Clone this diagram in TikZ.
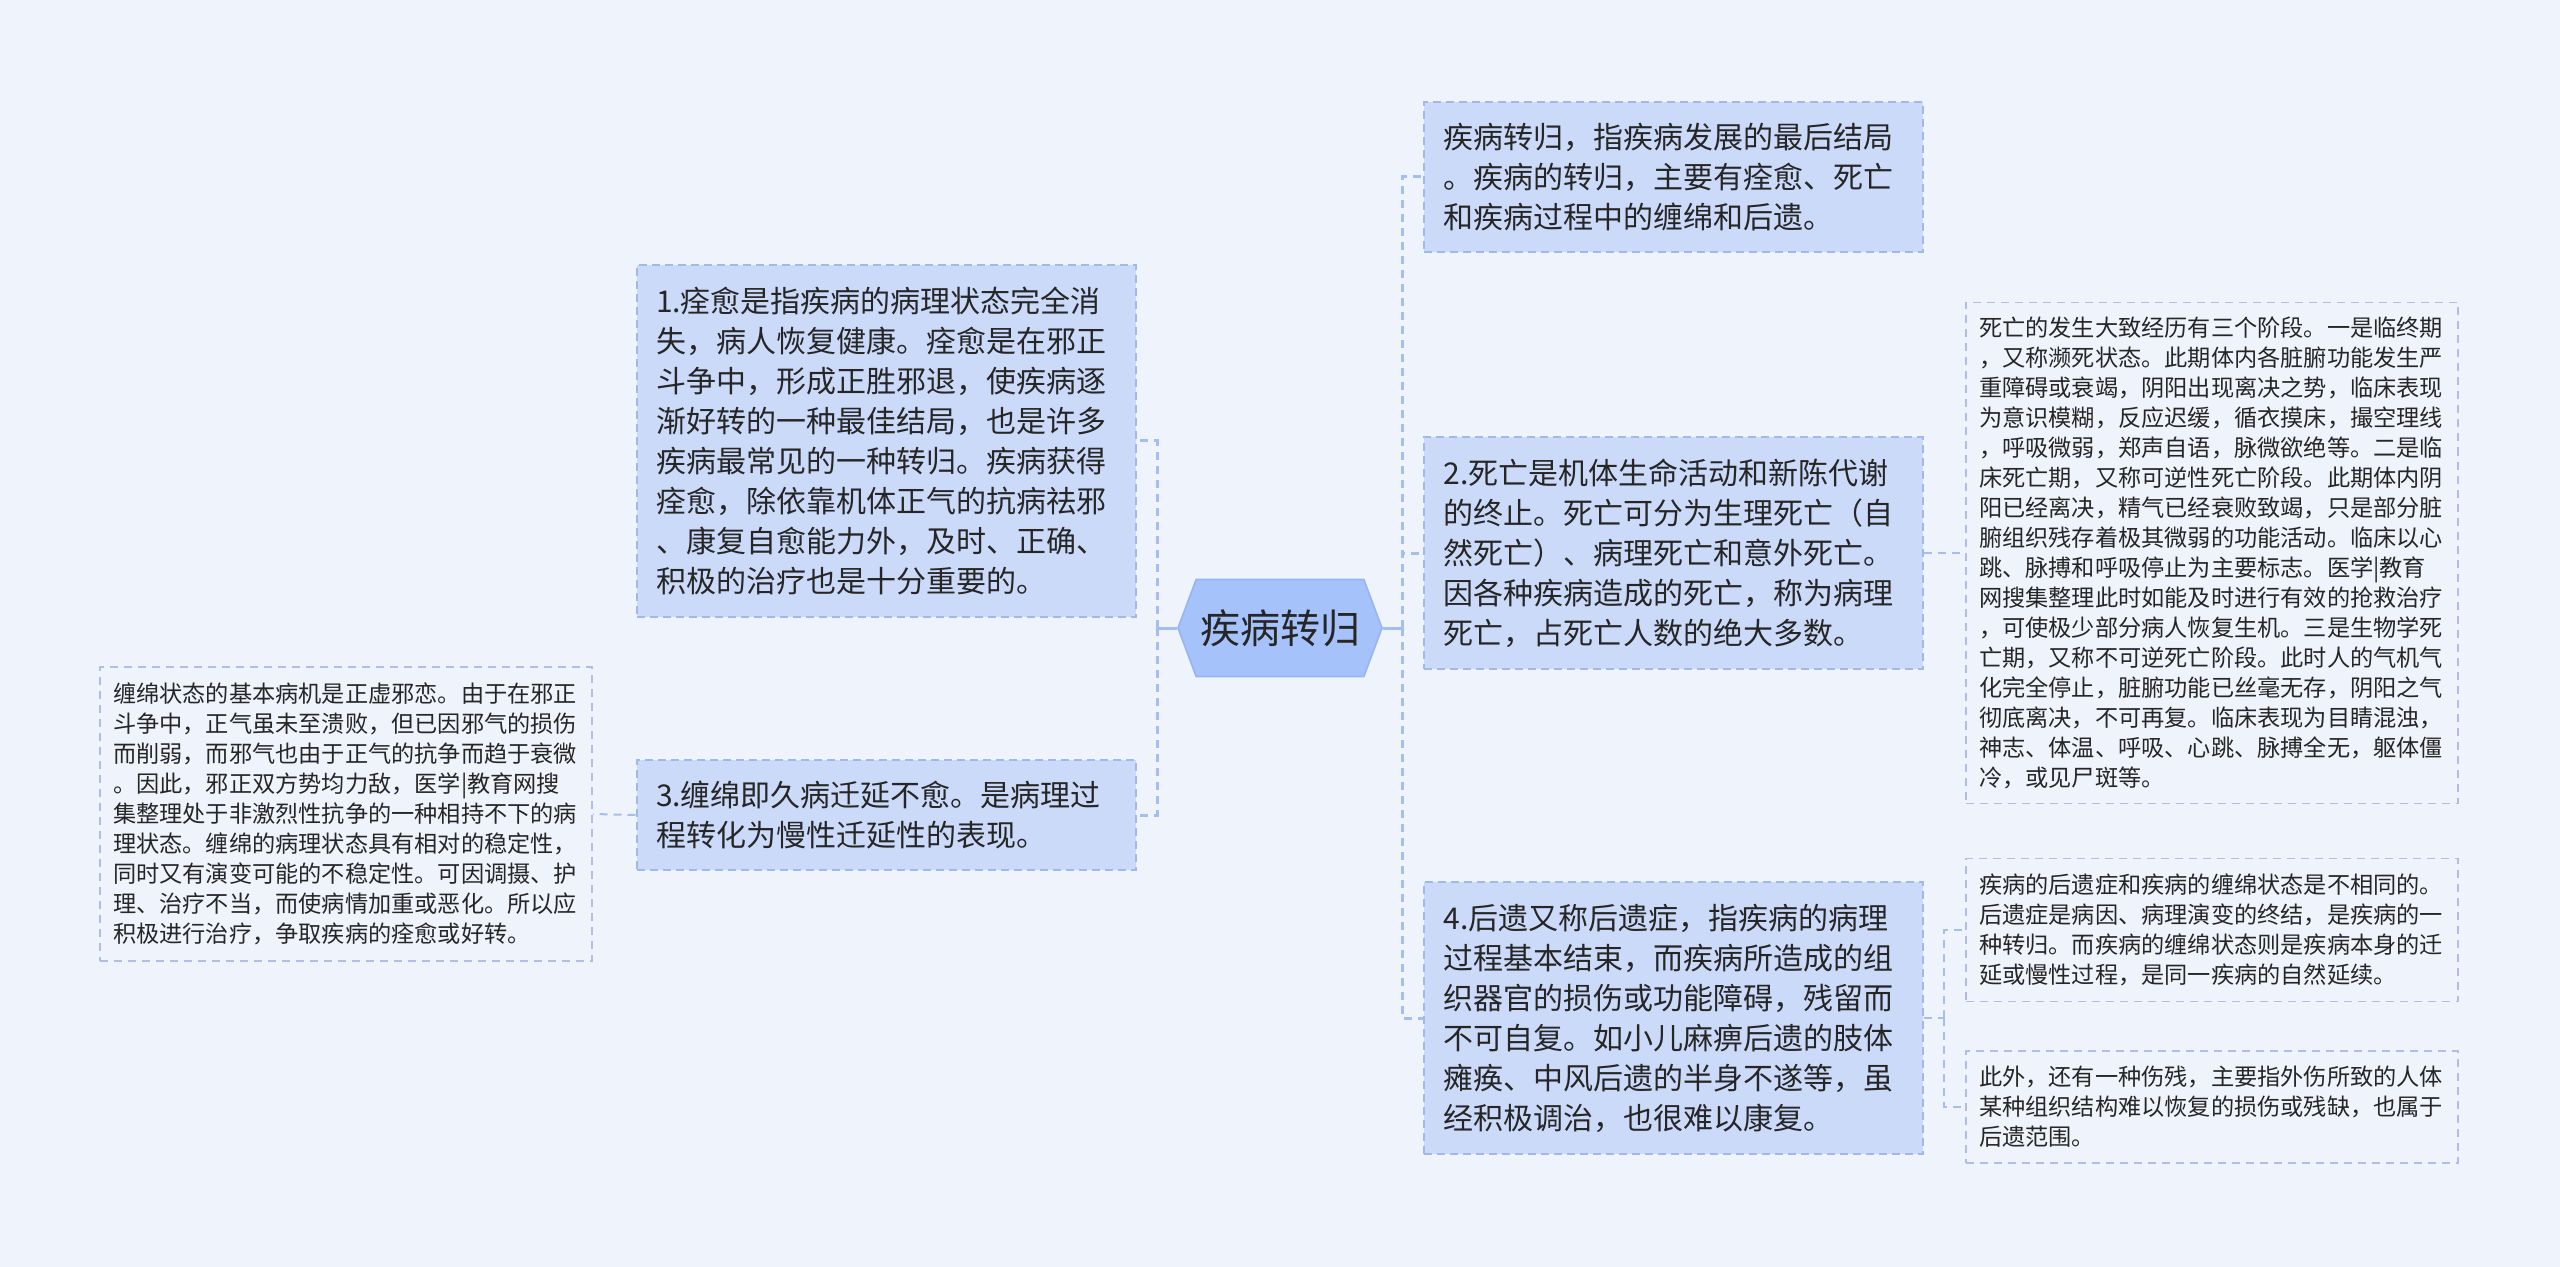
\documentclass[tikz,border=0pt]{standalone}
\usepackage{fontspec}
\setmainfont{Noto Sans CJK SC}
\usetikzlibrary{shapes.symbols}
\definecolor{bgc}{RGB}{239,243,252}
\definecolor{topicfill}{RGB}{204,218,250}
\definecolor{topicline}{RGB}{160,184,234}
\definecolor{hubfill}{RGB}{166,194,250}
\definecolor{hubline}{RGB}{150,180,242}
\definecolor{leafline}{RGB}{176,190,226}
\definecolor{linkc}{RGB}{164,190,242}
\definecolor{textc}{RGB}{38,38,38}
\tikzset{
  topic/.style={fill=topicfill, draw=topicline, line width=1pt,
    dash pattern=on 4pt off 2.5pt, text=textc, align=left,
    font=\fontsize{15pt}{20pt}\selectfont, text width=230pt,
    inner xsep=9.75pt, inner ysep=0pt},
  leaf/.style={draw=leafline, line width=0.8pt, dash pattern=on 4pt off 3pt,
    text=textc, align=left, font=\fontsize{11.6pt}{15pt}\selectfont,
    text width=233pt, inner xsep=6.5pt, inner ysep=0pt},
  hub/.style={signal, signal to=west and east, signal pointer angle=139,
    fill=hubfill, draw=hubline, line width=0.8pt, text=textc,
    font=\fontsize{20pt}{24pt}\selectfont, minimum width=102pt,
    minimum height=48.5pt, inner sep=0pt},
  trunk/.style={draw=linkc, line width=1.5pt},
  branch/.style={draw=linkc, line width=1.5pt, dash pattern=on 4pt off 3pt},
  twig/.style={draw=linkc, line width=1pt, dash pattern=on 4pt off 3pt},
}

\begin{document}
\begin{tikzpicture}[x=0.5pt, y=-0.5pt]
  \fill[bgc] (0,0) rectangle (2560,1267);
  \useasboundingbox (0,0) rectangle (2560,1267);

  % centre
  \node[hub] (root) at (1280,628) {疾病转归};

  % right side
  \node[topic, minimum height=75pt] (intro) at (1673.5,177) {疾病转归，指疾病发展的最后结局\\。疾病的转归，主要有痊愈、死亡\\和疾病过程中的缠绵和后遗。};
  \node[topic, minimum height=115.5pt] (death) at (1673.5,553) {2.死亡是机体生命活动和新陈代谢\\的终止。死亡可分为生理死亡（自\\然死亡）、病理死亡和意外死亡。\\因各种疾病造成的死亡，称为病理\\死亡，占死亡人数的绝大多数。};
  \node[topic, minimum height=136pt] (sequela) at (1673.5,1018) {4.后遗又称后遗症，指疾病的病理\\过程基本结束，而疾病所造成的组\\织器官的损伤或功能障碍，残留而\\不可自复。如小儿麻痹后遗的肢体\\瘫痪、中风后遗的半身不遂等，虽\\经积极调治，也很难以康复。};

  % left side
  \node[topic, minimum height=175.5pt] (cure) at (886,441) {1.痊愈是指疾病的病理状态完全消\\失，病人恢复健康。痊愈是在邪正\\斗争中，形成正胜邪退，使疾病逐\\渐好转的一种最佳结局，也是许多\\疾病最常见的一种转归。疾病获得\\痊愈，除依靠机体正气的抗病祛邪\\、康复自愈能力外，及时、正确、\\积极的治疗也是十分重要的。};
  \node[topic, minimum height=55pt] (linger) at (886,815) {3.缠绵即久病迁延不愈。是病理过\\程转化为慢性迁延性的表现。};

  % leaves
  \node[leaf, minimum height=147pt] (lingerleaf) at (346,814) {缠绵状态的基本病机是正虚邪恋。由于在邪正\\斗争中，正气虽未至溃败，但已因邪气的损伤\\而削弱，而邪气也由于正气的抗争而趋于衰微\\。因此，邪正双方势均力敌，医学|教育网搜\\集整理处于非激烈性抗争的一种相持不下的病\\理状态。缠绵的病理状态具有相对的稳定性，\\同时又有演变可能的不稳定性。可因调摄、护\\理、治疗不当，而使病情加重或恶化。所以应\\积极进行治疗，争取疾病的痊愈或好转。};
  \node[leaf, minimum height=250.5pt] (deathleaf) at (2212,553) {死亡的发生大致经历有三个阶段。一是临终期\\，又称濒死状态。此期体内各脏腑功能发生严\\重障碍或衰竭，阴阳出现离决之势，临床表现\\为意识模糊，反应迟缓，循衣摸床，撮空理线\\，呼吸微弱，郑声自语，脉微欲绝等。二是临\\床死亡期，又称可逆性死亡阶段。此期体内阴\\阳已经离决，精气已经衰败致竭，只是部分脏\\腑组织残存着极其微弱的功能活动。临床以心\\跳、脉搏和呼吸停止为主要标志。医学|教育\\网搜集整理此时如能及时进行有效的抢救治疗\\，可使极少部分病人恢复生机。三是生物学死\\亡期，又称不可逆死亡阶段。此时人的气机气\\化完全停止，脏腑功能已丝毫无存，阴阳之气\\彻底离决，不可再复。临床表现为目睛混浊，\\神志、体温、呼吸、心跳、脉搏全无，躯体僵\\冷，或见尸斑等。};
  \node[leaf, minimum height=71.5pt] (sequelaA) at (2212,930) {疾病的后遗症和疾病的缠绵状态是不相同的。\\后遗症是病因、病理演变的终结，是疾病的一\\种转归。而疾病的缠绵状态则是疾病本身的迁\\延或慢性过程，是同一疾病的自然延续。};
  \node[leaf, minimum height=56pt] (sequelaB) at (2212,1107) {此外，还有一种伤残，主要指外伤所致的人体\\某种组织结构难以恢复的损伤或残缺，也属于\\后遗范围。};

  % connectors
  \coordinate (rspine) at (1402,628);
  \coordinate (lspine) at (1157,628);
  \coordinate (sspine) at (1944,1018);
  \draw[trunk] (root.east) -- (rspine);
  \draw[trunk] (root.west) -- (lspine);
  \draw[branch] (rspine) |- (intro.west);
  \draw[branch] (rspine) |- (death.west);
  \draw[branch] (rspine) |- (sequela.west);
  \draw[branch] (lspine) |- (cure.east);
  \draw[branch] (lspine) |- (linger.east);
  \draw[twig] (linger.west) -- (lingerleaf.east);
  \draw[twig] (death.east) -- (deathleaf.west);
  \draw[twig] (sequela.east) -- (sspine);
  \draw[twig] (sspine) |- (sequelaA.west);
  \draw[twig] (sspine) |- (sequelaB.west);
\end{tikzpicture}
\end{document}
